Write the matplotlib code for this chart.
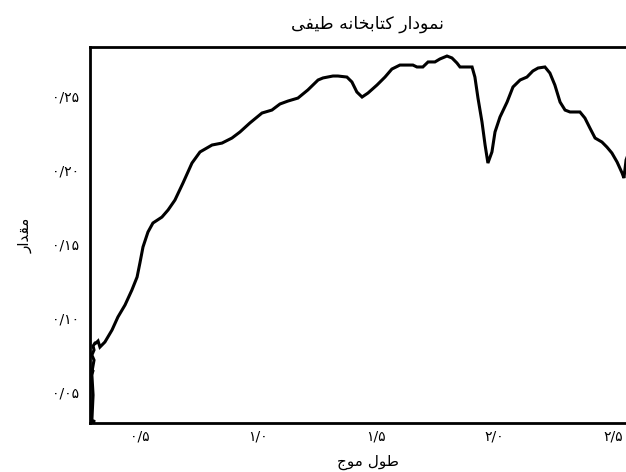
import matplotlib
matplotlib.use("Agg")
import matplotlib.pyplot as plt

# ---------------- data ----------------
wavelength = [
    0.294, 0.311, 0.298, 0.303, 0.298, 0.303, 0.298, 0.307, 0.298, 0.307,
    0.303, 0.311, 0.315, 0.324, 0.332, 0.353, 0.383, 0.408, 0.438, 0.467,
    0.489, 0.501, 0.514, 0.535, 0.556, 0.594, 0.620, 0.649, 0.683, 0.721,
    0.755, 0.806, 0.848, 0.890, 0.924, 0.966, 1.017, 1.059, 1.093, 1.127,
    1.169, 1.211, 1.254, 1.275, 1.317, 1.338, 1.376, 1.397, 1.418, 1.440,
    1.465, 1.503, 1.537, 1.566, 1.600, 1.655, 1.672, 1.697, 1.719, 1.748,
    1.769, 1.799, 1.820, 1.841, 1.854, 1.905, 1.917, 1.930, 1.947, 1.960,
    1.972, 1.989, 2.002, 2.023, 2.053, 2.078, 2.108, 2.137, 2.162, 2.184,
    2.213, 2.234, 2.255, 2.277, 2.298, 2.319, 2.361, 2.382, 2.403, 2.425,
    2.454, 2.475, 2.496, 2.518, 2.539, 2.547, 2.556, 2.575,
]
reflectance = [
    0.0297, 0.0300, 0.0310, 0.0480, 0.0615, 0.0649, 0.0635, 0.0716, 0.0750, 0.0784,
    0.0811, 0.0831, 0.0831, 0.0845, 0.0804, 0.0838, 0.0919, 0.1007, 0.1088, 0.1189,
    0.1277, 0.1372, 0.1480, 0.1581, 0.1642, 0.1682, 0.1730, 0.1797, 0.1912, 0.2047,
    0.2122, 0.2169, 0.2182, 0.2216, 0.2257, 0.2318, 0.2385, 0.2405, 0.2446, 0.2466,
    0.2486, 0.2541, 0.2608, 0.2622, 0.2635, 0.2635, 0.2628, 0.2595, 0.2527, 0.2493,
    0.2520, 0.2574, 0.2628, 0.2682, 0.2709, 0.2709, 0.2696, 0.2696, 0.2730, 0.2730,
    0.2750, 0.2770, 0.2757, 0.2723, 0.2696, 0.2696, 0.2628, 0.2486, 0.2324, 0.2169,
    0.2047, 0.2122, 0.2257, 0.2358, 0.2459, 0.2561, 0.2608, 0.2628, 0.2669, 0.2689,
    0.2696, 0.2655, 0.2574, 0.2459, 0.2405, 0.2392, 0.2392, 0.2351, 0.2284, 0.2216,
    0.2189, 0.2155, 0.2115, 0.2054, 0.1980, 0.1946, 0.2068, 0.2150,
]
x_ticks = [0.5, 1.0, 1.5, 2.0, 2.5]
x_tick_labels = ["۰/۵", "۱/۰", "۱/۵", "۲/۰", "۲/۵"]
y_ticks = [0.05, 0.10, 0.15, 0.20, 0.25]
y_tick_labels = ["۰/۰۵", "۰/۱۰", "۰/۱۵", "۰/۲۰", "۰/۲۵"]
title_text = "نمودار کتابخانه طیفی"
xlabel_text = "طول موج"
ylabel_text = "مقدار"

# ------------- simple Arabic/Persian shaping -------------
FORMS = {
    'ا': ('\uFE8D', '\uFE8E', None, None),
    'ب': ('\uFE8F', '\uFE90', '\uFE91', '\uFE92'),
    'ت': ('\uFE95', '\uFE96', '\uFE97', '\uFE98'),
    'ج': ('\uFE9D', '\uFE9E', '\uFE9F', '\uFEA0'),
    'خ': ('\uFEA5', '\uFEA6', '\uFEA7', '\uFEA8'),
    'د': ('\uFEA9', '\uFEAA', None, None),
    'ر': ('\uFEAD', '\uFEAE', None, None),
    'ط': ('\uFEC1', '\uFEC2', '\uFEC3', '\uFEC4'),
    'ف': ('\uFED1', '\uFED2', '\uFED3', '\uFED4'),
    'ق': ('\uFED5', '\uFED6', '\uFED7', '\uFED8'),
    'ل': ('\uFEDD', '\uFEDE', '\uFEDF', '\uFEE0'),
    'م': ('\uFEE1', '\uFEE2', '\uFEE3', '\uFEE4'),
    'ن': ('\uFEE5', '\uFEE6', '\uFEE7', '\uFEE8'),
    'ه': ('\uFEE9', '\uFEEA', '\uFEEB', '\uFEEC'),
    'و': ('\uFEED', '\uFEEE', None, None),
    'ک': ('\uFB8E', '\uFB8F', '\uFB90', '\uFB91'),
    'ی': ('\uFBFC', '\uFBFD', '\uFBFE', '\uFBFF'),
}


def shape(text):
    out = []
    n = len(text)
    for i, c in enumerate(text):
        if c not in FORMS:
            out.append(c)
            continue
        iso, fin, ini, med = FORMS[c]
        prev = text[i - 1] if i > 0 else ''
        nxt = text[i + 1] if i < n - 1 else ''
        pc = prev in FORMS and FORMS[prev][2] is not None
        nc = ini is not None and nxt in FORMS
        if pc and nc:
            out.append(med)
        elif pc:
            out.append(fin)
        elif nc:
            out.append(ini)
        else:
            out.append(iso)
    return ''.join(reversed(out))


FONT = ['DejaVu Sans']

# ---------------- figure ----------------
W, H = 626, 472
fig = plt.figure(figsize=(W / 100, H / 100), dpi=100)
ax_left, ax_right, ax_top, ax_bottom = 90, 645, 47, 423
ax = fig.add_axes([ax_left / W, 1 - ax_bottom / H,
                   (ax_right - ax_left) / W, (ax_bottom - ax_top) / H])

ax.plot(wavelength, reflectance, color='black', linewidth=2.2,
        solid_joinstyle='miter')

ax.set_xlim(0.290, 2.636)
ax.set_ylim(0.0291, 0.2831)

ax.set_xticks(x_ticks)
ax.set_xticklabels(x_tick_labels, family=FONT, fontsize=10)
ax.set_yticks(y_ticks)
ax.set_yticklabels(y_tick_labels, family=FONT, fontsize=10)
ax.tick_params(axis='both', length=0)
ax.tick_params(axis='x', pad=5)
ax.tick_params(axis='y', pad=8)

for side in ['left', 'bottom', 'top', 'right']:
    ax.spines[side].set_linewidth(2.0)
    ax.spines[side].set_color('black')

ax.set_title(shape(title_text), family=FONT, fontsize=12.5, pad=13)
ax.set_xlabel(shape(xlabel_text), family=FONT, fontsize=11, labelpad=8)
ax.set_ylabel(shape(ylabel_text), family=FONT, fontsize=11, labelpad=14)

fig.savefig('out.png', dpi=100)
